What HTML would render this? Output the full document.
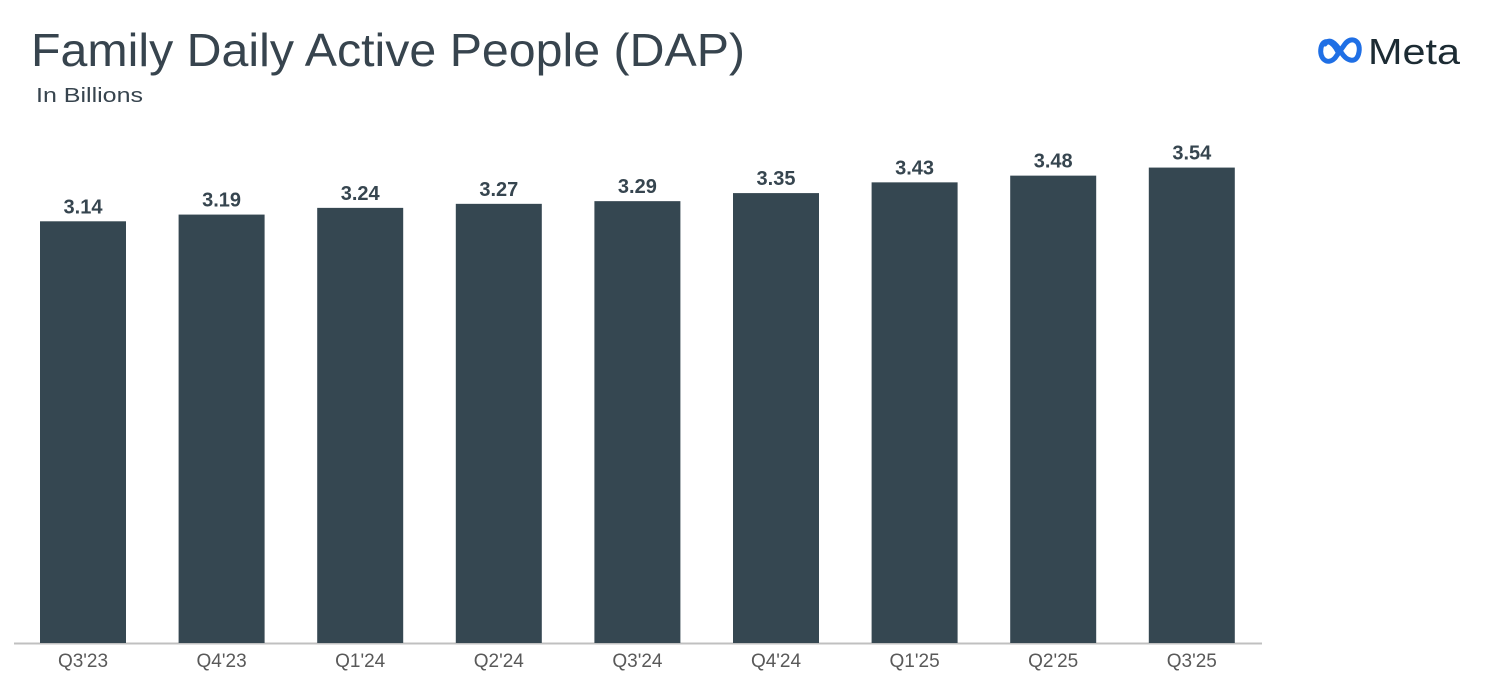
<!DOCTYPE html>
<html><head><meta charset="utf-8"><style>
html,body{margin:0;padding:0;background:#fff;}
svg{display:block;font-family:"Liberation Sans",sans-serif;}
</style></head><body>
<svg id="chart" width="1498" height="693" viewBox="0 0 1498 693">
<text x="31" y="66" font-size="46" fill="#37444e" textLength="714" lengthAdjust="spacingAndGlyphs">Family Daily Active People (DAP)</text>
<text x="36" y="102" font-size="20" fill="#37444e" textLength="107" lengthAdjust="spacingAndGlyphs">In Billions</text>
<g>
<path d="M1338 52 C1332 40,1323 38,1321 48 C1319 58,1327 66,1335 58 L1345 44 C1351 36,1361 40,1359 52 C1357 64,1347 62,1341 52 C1335 42,1329 38,1325 44" fill="none" stroke="#1f6fe5" stroke-width="5" stroke-linecap="round"/>
<text x="1368" y="64" font-size="36" fill="#1c2b33" textLength="92" lengthAdjust="spacingAndGlyphs">Meta</text>
</g>
<line x1="14" y1="643.5" x2="1262" y2="643.5" stroke="#c0c0c0" stroke-width="2"/>
<g id="bars"></g>
</svg>
<script>
const categories = ["Q3'23","Q4'23","Q1'24","Q2'24","Q3'24","Q4'24","Q1'25","Q2'25","Q3'25"];
const values = [3.14,3.19,3.24,3.27,3.29,3.35,3.43,3.48,3.54];
const valueLabels = ["3.14","3.19","3.24","3.27","3.29","3.35","3.43","3.48","3.54"];
const NS = "http://www.w3.org/2000/svg";
const baseY = 643, pxPerUnit = 134.3, x0 = 40, step = 138.6, bw = 86;
function yScale(v){ return baseY - v * pxPerUnit; }
function xScale(i){ return x0 + i * step; }
const g = document.getElementById('bars');
categories.forEach((c,i)=>{
  const x = xScale(i), y = yScale(values[i]);
  const r = document.createElementNS(NS,'rect');
  r.setAttribute('x',x); r.setAttribute('y',y);
  r.setAttribute('width',bw); r.setAttribute('height',baseY-y);
  r.setAttribute('fill','#354751');
  
  
  g.appendChild(r);
  const t = document.createElementNS(NS,'text');
  t.setAttribute('x',x+bw/2); t.setAttribute('y',y-8);
  t.setAttribute('text-anchor','middle'); t.setAttribute('font-size','20');
  t.setAttribute('font-weight','bold'); t.setAttribute('fill','#36454f');
  t.textContent = valueLabels[i];
  
  
  g.appendChild(t);
  const l = document.createElementNS(NS,'text');
  l.setAttribute('x',x+bw/2); l.setAttribute('y',667);
  l.setAttribute('text-anchor','middle'); l.setAttribute('font-size','19');
  l.setAttribute('fill','#595959');
  l.textContent = c;
  
  
  g.appendChild(l);
});
</script>
</body></html>
